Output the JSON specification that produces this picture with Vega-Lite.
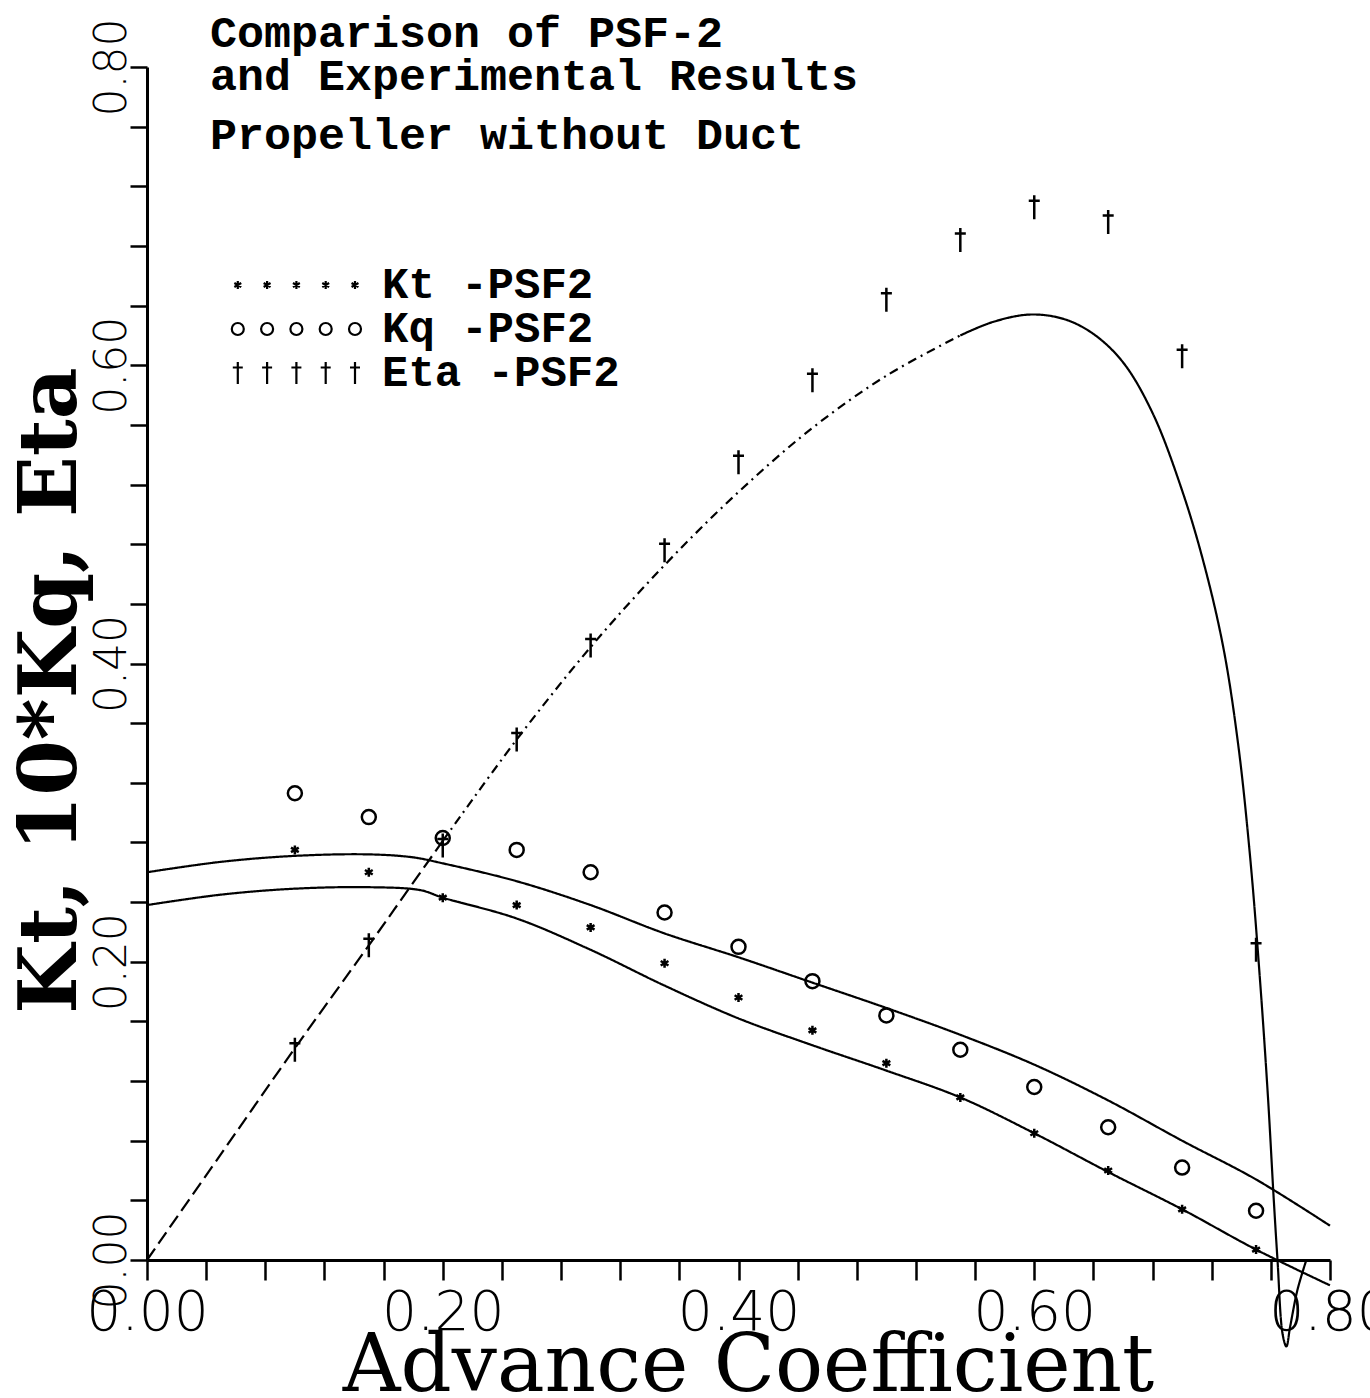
{
  "$schema": "https://vega.github.io/schema/vega-lite/v6.json",
  "width": 1183,
  "height": 1193,
  "autosize": {"type": "none"},
  "padding": {"left": 147, "top": 67, "right": 40, "bottom": 138},
  "background": "white",
  "title": {
    "text": ["Comparison of PSF-2", "and Experimental Results"],
    "subtitle": "Propeller without Duct",
    "anchor": "start",
    "frame": "group",
    "font": "Liberation Mono",
    "fontSize": 45,
    "fontWeight": "bold",
    "lineHeight": 43,
    "color": "black",
    "subtitleFont": "Liberation Mono",
    "subtitleFontSize": 45,
    "subtitleFontWeight": "bold",
    "subtitleColor": "black",
    "subtitleLineHeight": 45,
    "subtitlePadding": 14,
    "dx": 63,
    "dy": 140,
    "offset": 0
  },
  "datasets": {
    "pts": [
      {"J": 0.10, "v": 0.275, "s": "Kt"}, {"J": 0.15, "v": 0.260, "s": "Kt"}, {"J": 0.20, "v": 0.243, "s": "Kt"}, {"J": 0.25, "v": 0.238, "s": "Kt"}, {"J": 0.30, "v": 0.223, "s": "Kt"}, {"J": 0.35, "v": 0.199, "s": "Kt"}, {"J": 0.40, "v": 0.176, "s": "Kt"}, {"J": 0.45, "v": 0.154, "s": "Kt"}, {"J": 0.50, "v": 0.132, "s": "Kt"}, {"J": 0.55, "v": 0.109, "s": "Kt"}, {"J": 0.60, "v": 0.085, "s": "Kt"}, {"J": 0.65, "v": 0.060, "s": "Kt"}, {"J": 0.70, "v": 0.034, "s": "Kt"}, {"J": 0.75, "v": 0.007, "s": "Kt"},
      {"J": 0.10, "v": 0.313, "s": "Kq"}, {"J": 0.15, "v": 0.297, "s": "Kq"}, {"J": 0.20, "v": 0.283, "s": "Kq"}, {"J": 0.25, "v": 0.275, "s": "Kq"}, {"J": 0.30, "v": 0.260, "s": "Kq"}, {"J": 0.35, "v": 0.233, "s": "Kq"}, {"J": 0.40, "v": 0.210, "s": "Kq"}, {"J": 0.45, "v": 0.187, "s": "Kq"}, {"J": 0.50, "v": 0.164, "s": "Kq"}, {"J": 0.55, "v": 0.141, "s": "Kq"}, {"J": 0.60, "v": 0.116, "s": "Kq"}, {"J": 0.65, "v": 0.089, "s": "Kq"}, {"J": 0.70, "v": 0.062, "s": "Kq"}, {"J": 0.75, "v": 0.033, "s": "Kq"},
      {"J": 0.10, "v": 0.141, "s": "Eta"}, {"J": 0.15, "v": 0.211, "s": "Eta"}, {"J": 0.20, "v": 0.278, "s": "Eta"}, {"J": 0.25, "v": 0.349, "s": "Eta"}, {"J": 0.30, "v": 0.412, "s": "Eta"}, {"J": 0.35, "v": 0.476, "s": "Eta"}, {"J": 0.40, "v": 0.535, "s": "Eta"}, {"J": 0.45, "v": 0.590, "s": "Eta"}, {"J": 0.50, "v": 0.644, "s": "Eta"}, {"J": 0.55, "v": 0.684, "s": "Eta"}, {"J": 0.60, "v": 0.706, "s": "Eta"}, {"J": 0.65, "v": 0.696, "s": "Eta"}, {"J": 0.70, "v": 0.606, "s": "Eta"}, {"J": 0.75, "v": 0.208, "s": "Eta"}
    ],
    "curves": [
      {"i": 1, "J": 0.00, "v": 0.260, "seg": "Kq"}, {"i": 2, "J": 0.05, "v": 0.267, "seg": "Kq"}, {"i": 3, "J": 0.10, "v": 0.271, "seg": "Kq"}, {"i": 4, "J": 0.15, "v": 0.272, "seg": "Kq"}, {"i": 5, "J": 0.18, "v": 0.270, "seg": "Kq"}, {"i": 6, "J": 0.20, "v": 0.266, "seg": "Kq"}, {"i": 7, "J": 0.25, "v": 0.254, "seg": "Kq"}, {"i": 8, "J": 0.30, "v": 0.238, "seg": "Kq"}, {"i": 9, "J": 0.35, "v": 0.219, "seg": "Kq"}, {"i": 10, "J": 0.40, "v": 0.203, "seg": "Kq"}, {"i": 11, "J": 0.45, "v": 0.186, "seg": "Kq"}, {"i": 12, "J": 0.50, "v": 0.169, "seg": "Kq"}, {"i": 13, "J": 0.55, "v": 0.151, "seg": "Kq"}, {"i": 14, "J": 0.60, "v": 0.131, "seg": "Kq"}, {"i": 15, "J": 0.65, "v": 0.107, "seg": "Kq"}, {"i": 16, "J": 0.70, "v": 0.080, "seg": "Kq"}, {"i": 17, "J": 0.75, "v": 0.054, "seg": "Kq"}, {"i": 18, "J": 0.80, "v": 0.023, "seg": "Kq"},
      {"i": 1, "J": 0.00, "v": 0.238, "seg": "Kt"}, {"i": 2, "J": 0.05, "v": 0.245, "seg": "Kt"}, {"i": 3, "J": 0.10, "v": 0.249, "seg": "Kt"}, {"i": 4, "J": 0.15, "v": 0.250, "seg": "Kt"}, {"i": 5, "J": 0.185, "v": 0.248, "seg": "Kt"}, {"i": 6, "J": 0.20, "v": 0.243, "seg": "Kt"}, {"i": 7, "J": 0.25, "v": 0.229, "seg": "Kt"}, {"i": 8, "J": 0.30, "v": 0.208, "seg": "Kt"}, {"i": 9, "J": 0.35, "v": 0.184, "seg": "Kt"}, {"i": 10, "J": 0.40, "v": 0.162, "seg": "Kt"}, {"i": 11, "J": 0.45, "v": 0.144, "seg": "Kt"}, {"i": 12, "J": 0.50, "v": 0.127, "seg": "Kt"}, {"i": 13, "J": 0.55, "v": 0.109, "seg": "Kt"}, {"i": 14, "J": 0.60, "v": 0.085, "seg": "Kt"}, {"i": 15, "J": 0.65, "v": 0.059, "seg": "Kt"}, {"i": 16, "J": 0.70, "v": 0.034, "seg": "Kt"}, {"i": 17, "J": 0.75, "v": 0.007, "seg": "Kt"}, {"i": 18, "J": 0.80, "v": -0.017, "seg": "Kt"},
      {"i": 1, "J": 0.00, "v": 0.000, "seg": "Eta-a"}, {"i": 2, "J": 0.05, "v": 0.071, "seg": "Eta-a"}, {"i": 3, "J": 0.10, "v": 0.142, "seg": "Eta-a"}, {"i": 4, "J": 0.15, "v": 0.211, "seg": "Eta-a"}, {"i": 5, "J": 0.175, "v": 0.246, "seg": "Eta-a"}, {"i": 6, "J": 0.20, "v": 0.281, "seg": "Eta-a"},
      {"i": 1, "J": 0.20, "v": 0.281, "seg": "Eta-b"}, {"i": 2, "J": 0.25, "v": 0.349, "seg": "Eta-b"}, {"i": 3, "J": 0.30, "v": 0.411, "seg": "Eta-b"}, {"i": 4, "J": 0.35, "v": 0.466, "seg": "Eta-b"}, {"i": 5, "J": 0.40, "v": 0.515, "seg": "Eta-b"}, {"i": 6, "J": 0.45, "v": 0.558, "seg": "Eta-b"}, {"i": 7, "J": 0.50, "v": 0.593, "seg": "Eta-b"}, {"i": 8, "J": 0.55, "v": 0.620, "seg": "Eta-b"},
      {"i": 1, "J": 0.55, "v": 0.620, "seg": "Eta-c"}, {"i": 2, "J": 0.572, "v": 0.629, "seg": "Eta-c"}, {"i": 3, "J": 0.597, "v": 0.634, "seg": "Eta-c"}, {"i": 4, "J": 0.62, "v": 0.631, "seg": "Eta-c"}, {"i": 5, "J": 0.64, "v": 0.621, "seg": "Eta-c"}, {"i": 6, "J": 0.66, "v": 0.602, "seg": "Eta-c"}, {"i": 7, "J": 0.68, "v": 0.568, "seg": "Eta-c"}, {"i": 8, "J": 0.70, "v": 0.516, "seg": "Eta-c"}, {"i": 9, "J": 0.715, "v": 0.466, "seg": "Eta-c"}, {"i": 10, "J": 0.728, "v": 0.410, "seg": "Eta-c"}, {"i": 11, "J": 0.738, "v": 0.345, "seg": "Eta-c"}, {"i": 12, "J": 0.746, "v": 0.270, "seg": "Eta-c"}, {"i": 13, "J": 0.7525, "v": 0.190, "seg": "Eta-c"}, {"i": 14, "J": 0.758, "v": 0.110, "seg": "Eta-c"}, {"i": 15, "J": 0.762, "v": 0.040, "seg": "Eta-c"}, {"i": 16, "J": 0.7645, "v": 0.000, "seg": "Eta-c"}, {"i": 17, "J": 0.768, "v": -0.050, "seg": "Eta-c"}, {"i": 18, "J": 0.7705, "v": -0.058, "seg": "Eta-c"}, {"i": 19, "J": 0.773, "v": -0.045, "seg": "Eta-c"}, {"i": 20, "J": 0.778, "v": -0.020, "seg": "Eta-c"}, {"i": 21, "J": 0.784, "v": 0.000, "seg": "Eta-c"}
    ]
  },
  "layer": [
    {
      "data": {"name": "curves"},
      "mark": {"type": "line", "color": "black", "strokeWidth": 2.2, "interpolate": "catmull-rom"},
      "encoding": {
        "x": {"field": "J", "type": "quantitative", "scale": {"domain": [0, 0.8], "nice": false, "zero": false},
          "axis": {
            "orient": "bottom",
            "values": [0, 0.02, 0.04, 0.06, 0.08, 0.1, 0.12, 0.14, 0.16, 0.18, 0.2, 0.22, 0.24, 0.26, 0.28, 0.3, 0.32, 0.34, 0.36, 0.38, 0.4, 0.42, 0.44, 0.46, 0.48, 0.5, 0.52, 0.54, 0.56, 0.58, 0.6, 0.62, 0.64, 0.66, 0.68, 0.7, 0.72, 0.74, 0.76, 0.78, 0.8],
            "labelExpr": "round(datum.value*100) % 20 === 0 ? format(datum.value, '.2f') : ''",
            "labelOverlap": false,
            "labelFlush": false,
            "labelFont": "DejaVu Sans",
            "labelFontWeight": 200,
            "labelFontSize": 55,
            "labelColor": "black",
            "labelBaseline": "top",
            "labelPadding": 6,
            "grid": false,
            "domainColor": "black",
            "domainWidth": 3,
            "tickColor": "black",
            "tickWidth": 2.5,
            "tickSize": 20,
            "title": "Advance Coefficient",
            "titleFont": "DejaVu Serif",
            "titleFontSize": 80,
            "titleFontWeight": "normal",
            "titleColor": "black",
            "titleX": 601,
            "titleY": 130,
            "titleAlign": "center",
            "titleBaseline": "alphabetic"
          }
        },
        "y": {"field": "v", "type": "quantitative", "scale": {"domain": [0, 0.8], "nice": false, "zero": false},
          "axis": {
            "orient": "left",
            "values": [0, 0.02, 0.04, 0.06, 0.08, 0.1, 0.12, 0.14, 0.16, 0.18, 0.2, 0.22, 0.24, 0.26, 0.28, 0.3, 0.32, 0.34, 0.36, 0.38, 0.4, 0.42, 0.44, 0.46, 0.48, 0.5, 0.52, 0.54, 0.56, 0.58, 0.6, 0.62, 0.64, 0.66, 0.68, 0.7, 0.72, 0.74, 0.76, 0.78, 0.8],
            "labelExpr": "round(datum.value*100) % 20 === 0 ? format(datum.value, '.2f') : ''",
            "labelOverlap": false,
            "labelFlush": false,
            "labelFont": "DejaVu Sans",
            "labelFontWeight": 200,
            "labelFontSize": 44,
            "labelColor": "black",
            "labelAngle": 270,
            "labelAlign": "center",
            "labelBaseline": "alphabetic",
            "labelPadding": 5,
            "grid": false,
            "domainColor": "black",
            "domainWidth": 3,
            "tickColor": "black",
            "tickWidth": 2.5,
            "tickSize": 17,
            "title": "Kt, 10*Kq, Eta",
            "titleFont": "DejaVu Serif",
            "titleFontSize": 80,
            "titleFontWeight": "bold",
            "titleColor": "black",
            "titleAngle": 270,
            "titleX": -72,
            "titleY": 623,
            "titleAlign": "center",
            "titleBaseline": "alphabetic"
          }
        },
        "detail": {"field": "seg", "type": "nominal"},
        "order": {"field": "i", "type": "quantitative"},
        "strokeDash": {"field": "seg", "type": "nominal", "legend": null,
          "scale": {"domain": ["Kt", "Kq", "Eta-a", "Eta-b", "Eta-c"], "range": [[1, 0], [1, 0], [14, 6], [9, 5, 2, 5], [1, 0]]}}
      }
    },
    {
      "data": {"name": "pts"},
      "mark": {"type": "point", "filled": false, "strokeWidth": 2.5, "opacity": 1, "size": 100},
      "encoding": {
        "x": {"field": "J", "type": "quantitative"},
        "y": {"field": "v", "type": "quantitative"},
        "shape": {"field": "s", "type": "nominal", "legend": null,
          "scale": {"domain": ["Kq", "Kt", "Eta"], "range": ["M1.4,0A1.4,1.4,0,1,1,-1.4,0A1.4,1.4,0,1,1,1.4,0", "M0,-0.9L0,0.9M-0.78,-0.45L0.78,0.45M-0.78,0.45L0.78,-0.45", "M0,-2.4L0,2.4M-1.1,-1.3L1.1,-1.3"]}},
        "color": {"field": "s", "type": "nominal",
          "scale": {"domain": ["Kt", "Kq", "Eta"], "range": ["black", "black", "black"]},
          "legend": {
            "orient": "none",
            "legendX": 186,
            "legendY": 196,
            "title": null,
            "padding": 0,
            "labelFont": "Liberation Mono",
            "labelFontSize": 44,
            "labelFontWeight": "bold",
            "labelColor": "black",
            "labelExpr": "datum.label + ' -PSF2'",
            "labelLimit": 500,
            "labelOffset": 5,
            "symbolSize": 100,
            "symbolStrokeWidth": 2.2,
            "rowPadding": 0,
            "symbolType": {"expr": "datum.value === 'Kt' ? 'M0,-0.8L0,0.8M-0.69,-0.4L0.69,0.4M-0.69,0.4L0.69,-0.4M-5.86,-0.8L-5.86,0.8M-6.55,-0.4L-5.17,0.4M-6.55,0.4L-5.17,-0.4M-11.72,-0.8L-11.72,0.8M-12.41,-0.4L-11.03,0.4M-12.41,0.4L-11.03,-0.4M-17.58,-0.8L-17.58,0.8M-18.27,-0.4L-16.89,0.4M-18.27,0.4L-16.89,-0.4M-23.44,-0.8L-23.44,0.8M-24.13,-0.4L-22.75,0.4M-24.13,0.4L-22.75,-0.4' : datum.value === 'Kq' ? 'M1.2,0A1.2,1.2,0,1,1,-1.2,0A1.2,1.2,0,1,1,1.2,0M-4.66,0A1.2,1.2,0,1,1,-7.06,0A1.2,1.2,0,1,1,-4.66,0M-10.52,0A1.2,1.2,0,1,1,-12.92,0A1.2,1.2,0,1,1,-10.52,0M-16.38,0A1.2,1.2,0,1,1,-18.78,0A1.2,1.2,0,1,1,-16.38,0M-22.24,0A1.2,1.2,0,1,1,-24.64,0A1.2,1.2,0,1,1,-22.24,0' : 'M0,-2.2L0,2.2M-1,-1.1L1,-1.1M-5.86,-2.2L-5.86,2.2M-6.86,-1.1L-4.86,-1.1M-11.72,-2.2L-11.72,2.2M-12.72,-1.1L-10.72,-1.1M-17.58,-2.2L-17.58,2.2M-18.58,-1.1L-16.58,-1.1M-23.44,-2.2L-23.44,2.2M-24.44,-1.1L-22.44,-1.1'"}
          }
        }
      }
    }
  ],
  "config": {
    "view": {"stroke": null}
  }
}
